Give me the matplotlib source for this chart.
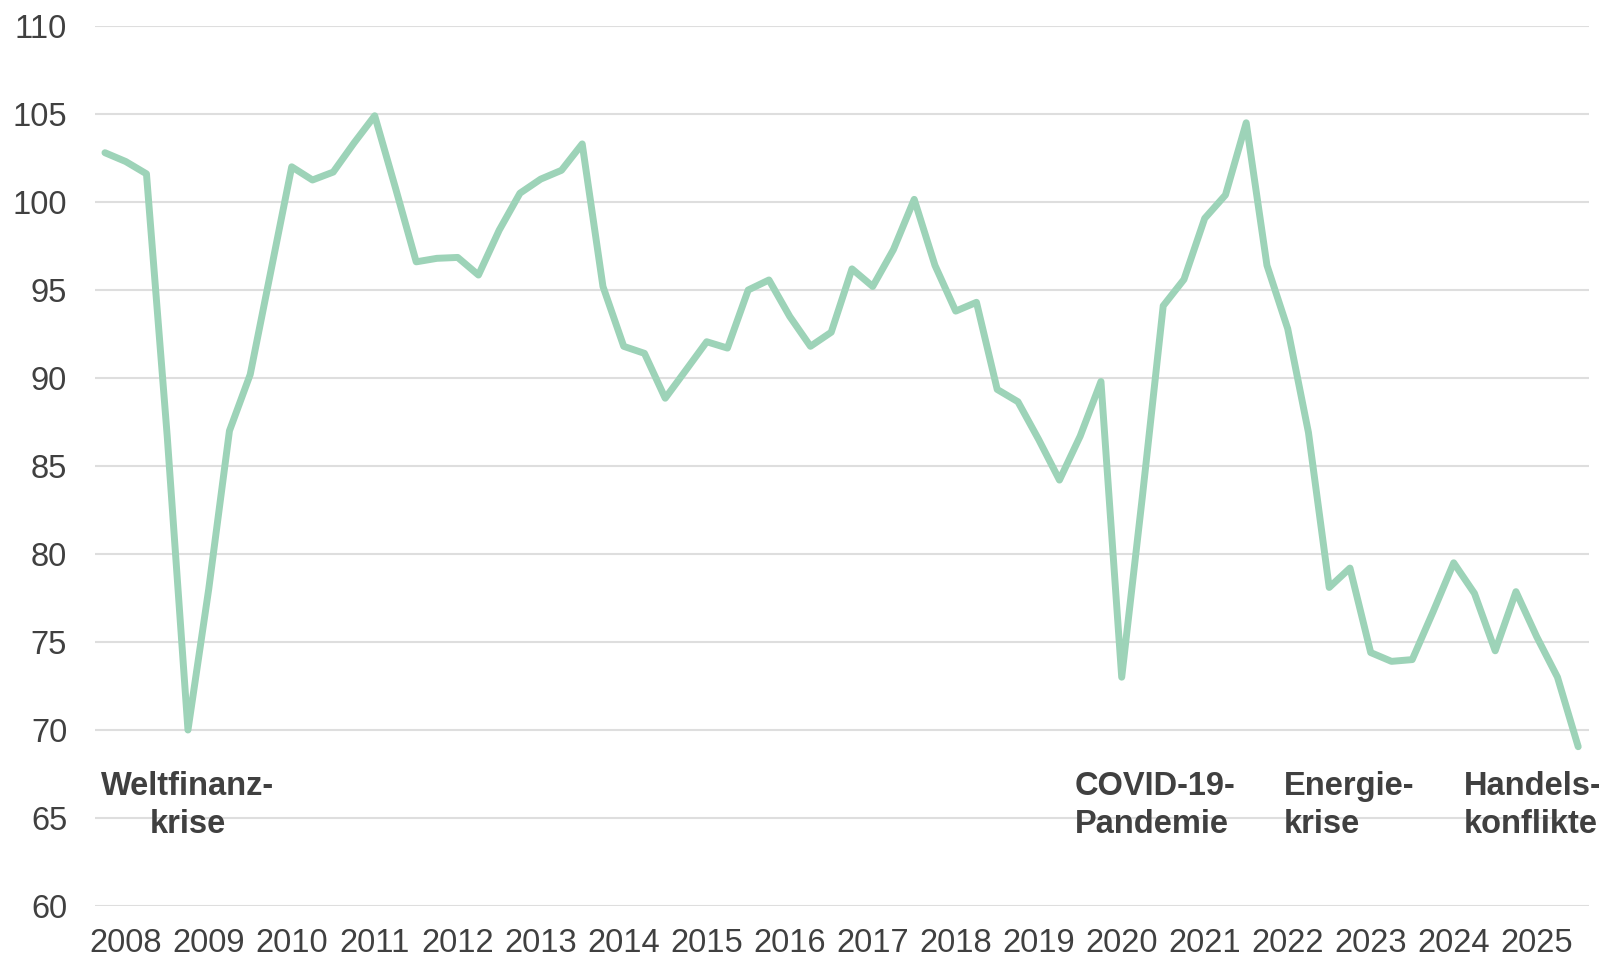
import matplotlib
matplotlib.use("Agg")
import matplotlib.pyplot as plt

# Quarterly index values, 2008 Q1 .. 2025 Q4
values = [
    102.8, 102.3, 101.6, 86.7,                 # 2008
    70.0, 78.0, 87.0, 90.2,                    # 2009
    96.1, 102.0, 101.25, 101.7,                # 2010
    103.35, 104.9, 100.8, 96.6,                # 2011
    96.8, 96.85, 95.85, 98.4,                  # 2012
    100.5, 101.3, 101.8, 103.3,                # 2013
    95.2, 91.8, 91.4, 88.85,                   # 2014
    90.45, 92.06, 91.7, 95.0,                  # 2015
    95.57, 93.5, 91.8, 92.6,                   # 2016
    96.2, 95.2, 97.3, 100.15,                  # 2017
    96.4, 93.8, 94.3, 89.35,                   # 2018
    88.65, 86.5, 84.2, 86.7,                   # 2019
    89.8, 73.0, 83.3, 94.1,                    # 2020
    95.6, 99.07, 100.4, 104.5,                 # 2021
    96.4, 92.8, 86.9, 78.1,                    # 2022
    79.2, 74.4, 73.9, 74.0,                    # 2023
    76.7, 79.5, 77.76, 74.5,                   # 2024
    77.86, 75.3, 73.0, 69.05,                  # 2025
]
years = [str(y) for y in range(2008, 2026)]
yticks = [60, 65, 70, 75, 80, 85, 90, 95, 100, 105, 110]

annotations = [
    ("Weltfinanz-\nkrise", 4.0, "center"),
    ("COVID-19-\nPandemie", 46.75, "left"),
    ("Energie-\nkrise", 56.8, "left"),
    ("Handels-\nkonflikte", 65.5, "left"),
]

TEXT = "#404040"
plt.rcParams["font.family"] = ["Liberation Sans", "DejaVu Sans"]

fig = plt.figure(figsize=(15.99, 9.57), dpi=100)
ax = fig.add_axes([95/1599, (957-906)/957, (1589-95)/1599, (906-26)/957])

x = list(range(len(values)))
ax.plot(x, values, color="#9dd3b8", linewidth=5.0,
        solid_joinstyle="round", solid_capstyle="round", zorder=3)

ax.set_xlim(-0.48, 71.52)
ax.set_ylim(60, 110)
ax.set_yticks(yticks)
ax.set_yticklabels([str(v) for v in yticks])
ax.set_xticks([1 + 4*i for i in range(len(years))])
ax.set_xticklabels(years)

ax.grid(axis="y", color="#dedede", linewidth=1.5, zorder=0)
ax.grid(axis="x", visible=False)
for s in ax.spines.values():
    s.set_visible(False)
ax.tick_params(axis="both", length=0, labelsize=23.5, colors=TEXT)
ax.tick_params(axis="y", pad=20)
ax.tick_params(axis="x", pad=16)

for text, xpos, ha in annotations:
    l1, l2 = text.split("\n")
    ax.text(xpos, 66.31, l1, ha=ha, va="baseline", fontsize=23.5,
            fontweight="bold", color=TEXT)
    ax.text(xpos, 64.15, l2, ha=ha, va="baseline", fontsize=23.5,
            fontweight="bold", color=TEXT)

fig.savefig("out.png", dpi=100)
